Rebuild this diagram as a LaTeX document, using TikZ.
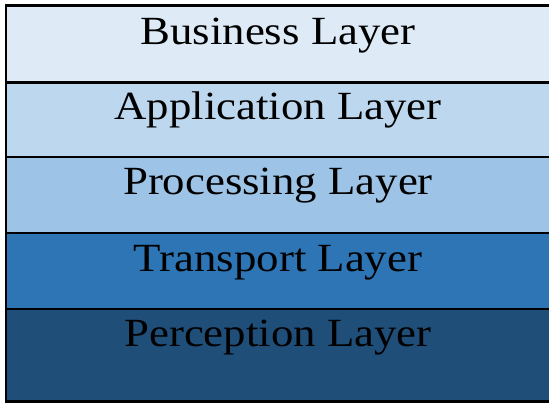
\documentclass[tikz,border=0pt]{standalone}
\usepackage{fontspec}
\setmainfont[FakeStretch=1.12]{Liberation Serif}
\usepackage{xcolor}
\usepackage{tikz}

\definecolor{businessblue}{HTML}{DEEBF7}
\definecolor{applicationblue}{HTML}{BDD7EE}
\definecolor{processingblue}{HTML}{9DC3E6}
\definecolor{transportblue}{HTML}{2E75B6}
\definecolor{perceptionblue}{HTML}{1F4E79}

\tikzset{
  layerline/.style={draw=black, line width=2.4pt},
  layertext/.style={anchor=base, inner sep=0pt, font=\fontsize{40}{48}\selectfont}
}

\begin{document}
\begin{tikzpicture}[x=1pt, y=-1pt]
\useasboundingbox (0,0) rectangle (549,403);

% Fill the five layers (right side runs off the page)
\fill[businessblue] (6,5.7) rectangle (560,82.7);
\fill[applicationblue] (6,82.7) rectangle (560,157);
\fill[processingblue] (6,157) rectangle (560,233);
\fill[transportblue] (6,233) rectangle (560,309);
\fill[perceptionblue] (6,309) rectangle (560,401.7);

% Layer names
\node[layertext] (business) at (278,44.7) {Business Layer};
\node[layertext] (application) at (278,119.5) {Application Layer};
\node[layertext] (processing) at (278,195) {Processing Layer};
\node[layertext] (transport) at (278,271.5) {Transport Layer};
\node[layertext] (perception) at (278,346.7) {Perception Layer};

% Outer border and separators
\draw[layerline, line width=2.8pt] (560,5.7) -- (6,5.7) -- (6,401.7) -- (560,401.7);
\draw[layerline] (6,82.7) -- (560,82.7);
\draw[layerline] (6,157) -- (560,157);
\draw[layerline] (6,233) -- (560,233);
\draw[layerline] (6,309) -- (560,309);
\end{tikzpicture}
\end{document}
